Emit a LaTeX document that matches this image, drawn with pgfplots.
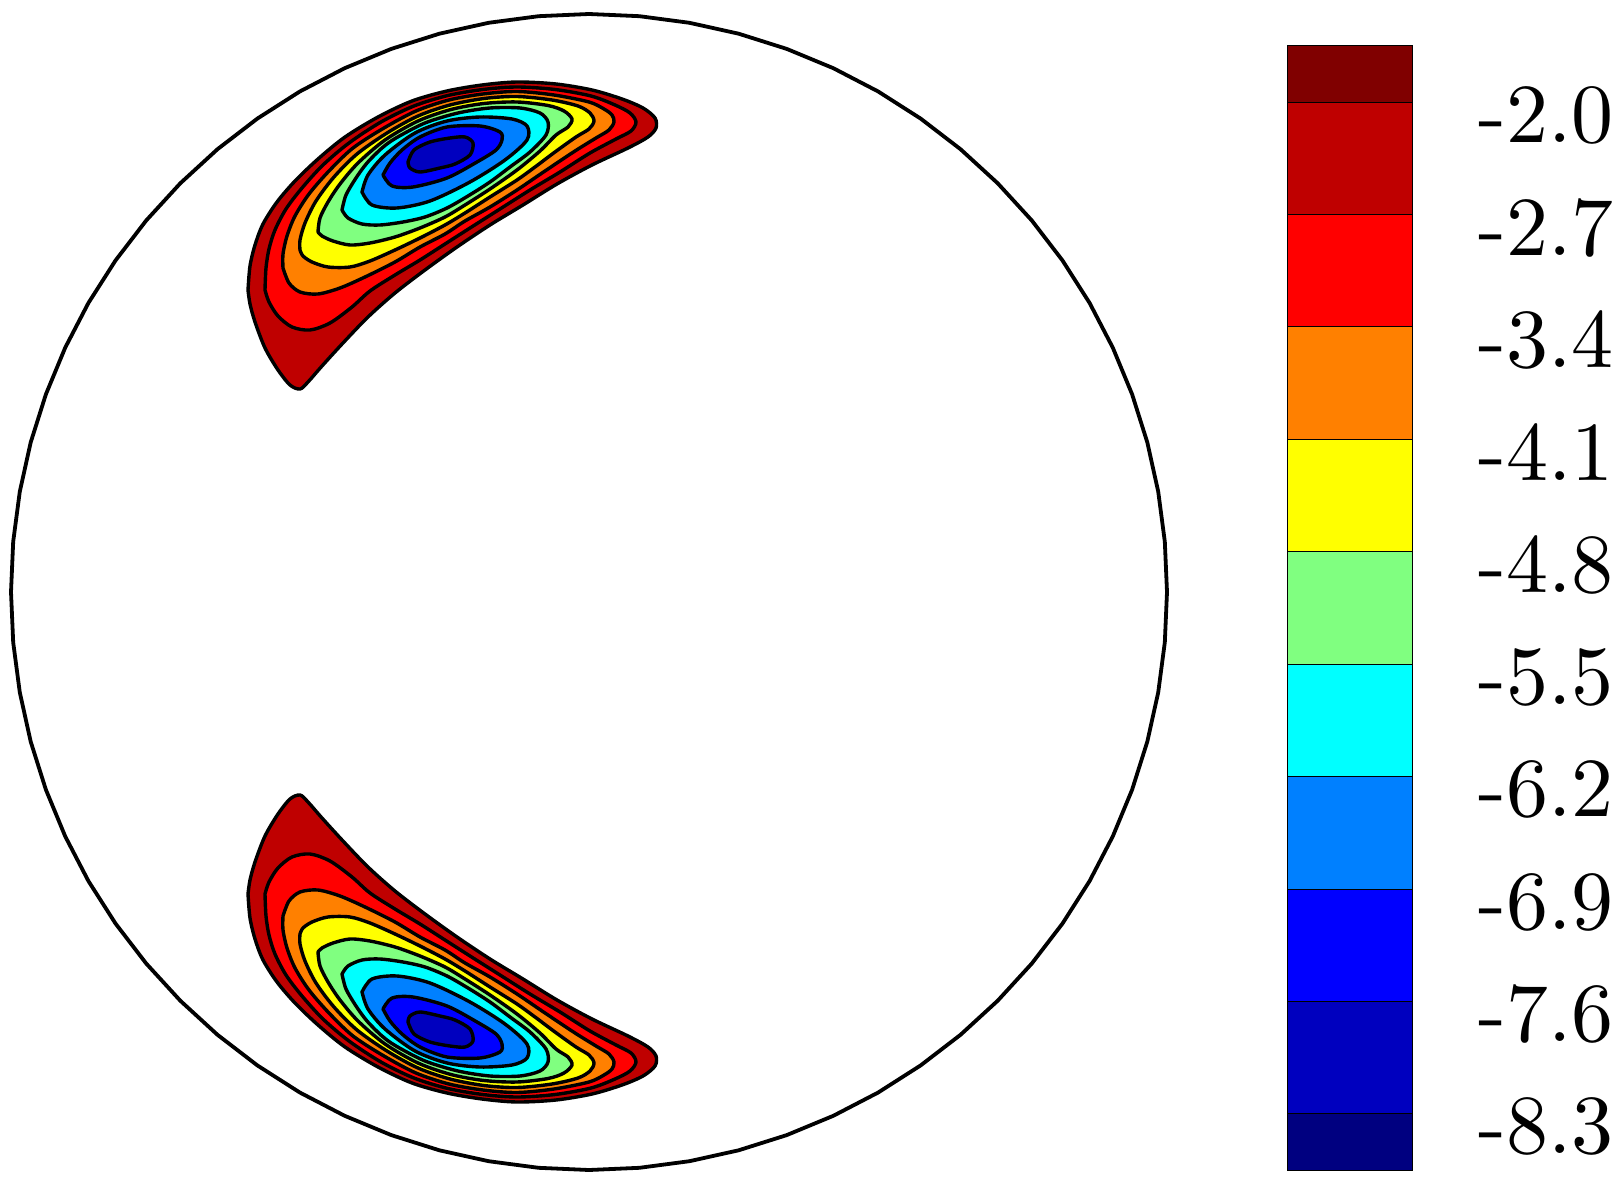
\documentclass[border=0pt]{standalone}
\usepackage{fontspec}
\newfontfamily\cbfont{lmroman10-regular.otf}
\usepackage{pgfplots}
\pgfplotsset{compat=1.18}
\definecolor{c0}{RGB}{128,0,0}
\definecolor{c1}{RGB}{191,0,0}
\definecolor{c2}{RGB}{255,0,0}
\definecolor{c3}{RGB}{255,128,0}
\definecolor{c4}{RGB}{255,255,0}
\definecolor{c5}{RGB}{128,255,128}
\definecolor{c6}{RGB}{0,255,255}
\definecolor{c7}{RGB}{0,128,255}
\definecolor{c8}{RGB}{0,0,255}
\definecolor{c9}{RGB}{0,0,191}
\definecolor{c10}{RGB}{0,0,128}
\pgfplotsset{lev/.style={fill=#1, draw=black, line width=1.7pt, smooth, tension=0.5, line join=round, mark=none}}
\begin{document}
\begin{tikzpicture}
\begin{axis}[at={(0pt,0pt)}, anchor=south west, scale only axis, x=0.5pt, y=0.5pt,
  xmin=0, xmax=1620, ymin=-593, ymax=592, hide axis, clip=false]
\addplot[draw=none, mark=none] coordinates {(0,-593) (1620,592)};
% circle
\addplot[draw=black, line width=1.9pt, mark=none, line join=round] coordinates {
(1167,0) (1164.8,50.4) (1158.2,100.4) (1147.3,149.6) (1132.1,197.7) (1112.8,244.3) (1089.6,289) (1062.5,331.5) (1031.8,371.5) (997.7,408.7) (960.5,442.8) (920.5,473.5) (878,500.6) (833.3,523.8) (786.7,543.1) (738.6,558.3) (689.4,569.2) (639.4,575.8) (589,578)
(538.6,575.8) (488.6,569.2) (439.4,558.3) (391.3,543.1) (344.7,523.8) (300,500.6) (257.5,473.5) (217.5,442.8) (180.3,408.7) (146.2,371.5) (115.5,331.5) (88.4,289) (65.2,244.3) (45.9,197.7) (30.7,149.6) (19.8,100.4) (13.2,50.4) (11,0)
(13.2,-50.4) (19.8,-100.4) (30.7,-149.6) (45.9,-197.7) (65.2,-244.3) (88.4,-289) (115.5,-331.5) (146.2,-371.5) (180.3,-408.7) (217.5,-442.8) (257.5,-473.5) (300,-500.6) (344.7,-523.8) (391.3,-543.1) (439.4,-558.3) (488.6,-569.2) (538.6,-575.8) (589,-578)
(639.4,-575.8) (689.4,-569.2) (738.6,-558.3) (786.7,-543.1) (833.3,-523.8) (878,-500.6) (920.5,-473.5) (960.5,-442.8) (997.7,-408.7) (1031.8,-371.5) (1062.5,-331.5) (1089.6,-289) (1112.8,-244.3) (1132.1,-197.7) (1147.3,-149.6) (1158.2,-100.4) (1164.8,-50.4) (1167,0)} -- cycle;
% ---------- top lobe ----------
\addplot[lev=c1] coordinates {(248,302)(250,326)(255,347)(263,368)(277,390)(295,411)(318,433)(345,455)(378,475)(412,491)(447,501)(482,507)(517,510)(556,508)(592,502)(622,493)(643,484)(655,474)(656,464)(648,455)(628,444)(592,427)(557,408)(523,387)(490,367)(457,345)(425,322)(395,299)(368,275)(343,249)(322,226)(308,210)(300,203)(290,207)(278,222)(265,244)(255,270)(250,288)(248,302)} -- cycle;
\addplot[lev=c2] coordinates {(265,302)(266,324)(269,343)(275,362)(286,383)(302,404)(323,427)(349,449)(381,470)(414,486)(448,496.5)(483,502.5)(517,505)(555,502.5)(591,496)(615,487)(630,479)(636,470)(631,461)(616,453)(590,439)(560,420)(530,402)(500,383)(470,364)(445,348)(420,332)(395,317)(370,301)(352,285)(330,269)(310,262)(292,265)(278,276)(269,290)(265,302)} -- cycle;
\addplot[lev=c3] coordinates {(283,324)(283,338)(287,356)(295,376)(309,398)(329,421)(353,444)(384,464)(416,481)(449,492)(483,498)(517,500.5)(554,497)(589,490)(604,483)(612,477)(614,470)(609,462)(596,454)(575,441)(545,421)(517,402)(490,385)(465,371)(445,358)(420,345)(395,330)(365,315)(340,304)(318,298)(300,300)(289,309)(283,324)} -- cycle;
\addplot[lev=c4] coordinates {(300,342)(300,352)(305,369)(316,391)(334,415)(357,438)(387,459)(418,476)(450,487)(484,493.5)(517,495.5)(552,492)(578,486)(590,479)(594,471)(589,463)(576,455)(555,440)(535,425)(517,412)(490,395)(465,379)(445,367)(420,354)(395,342)(370,331)(350,325)(328,325)(312,330)(303,336)(300,342)} -- cycle;
\addplot[lev=c5] coordinates {(318,360)(320,374)(328,390)(340,408)(358,429)(385,452)(418,471)(451,482.5)(484,488.5)(517,490)(548,486.5)(564,481)(572,473)(568,465)(556,457)(540,441)(517,422)(490,403)(465,387)(445,375)(420,364)(395,355)(370,349)(350,347)(333,351)(322,356)(318,360)} -- cycle;
\addplot[lev=c6] coordinates {(342,382)(346,397)(356,414)(367,429)(382,444)(396,454)(425,469)(458,479)(490,484)(520,484)(540,479)(548,470)(546,457)(530,440)(510,425)(490,410)(468,396)(447,384)(425,375)(403,370)(380,367)(362,368)(348,374)(342,382)} -- cycle;
\addplot[lev=c7] coordinates {(362,400)(368,417)(385,437)(415,459)(447,471)(480,475)(512,473)(527,466)(527,452)(505,432)(470,410)(430,391)(397,384)(372,387)(362,400)} -- cycle;
\addplot[lev=c8] coordinates {(383,417)(390,429)(402,442)(420,455)(447,465)(480,466)(500,460)(502,452)(496,442)(477,430)(447,414)(413,405)(392,406)(383,417)} -- cycle;
\addplot[lev=c9] coordinates {(408,430)(414,442)(430,450)(450,454)(465,455)(473,449)(470,437)(455,428)(440,424)(420,420)(410,424)(408,430)} -- cycle;
% ---------- bottom lobe ----------
\addplot[lev=c1] coordinates {(248,-302)(250,-326)(255,-347)(263,-368)(277,-390)(295,-411)(318,-433)(345,-455)(378,-475)(412,-491)(447,-501)(482,-507)(517,-510)(556,-508)(592,-502)(622,-493)(643,-484)(655,-474)(656,-464)(648,-455)(628,-444)(592,-427)(557,-408)(523,-387)(490,-367)(457,-345)(425,-322)(395,-299)(368,-275)(343,-249)(322,-226)(308,-210)(300,-203)(290,-207)(278,-222)(265,-244)(255,-270)(250,-288)(248,-302)} -- cycle;
\addplot[lev=c2] coordinates {(265,-302)(266,-324)(269,-343)(275,-362)(286,-383)(302,-404)(323,-427)(349,-449)(381,-470)(414,-486)(448,-496.5)(483,-502.5)(517,-505)(555,-502.5)(591,-496)(615,-487)(630,-479)(636,-470)(631,-461)(616,-453)(590,-439)(560,-420)(530,-402)(500,-383)(470,-364)(445,-348)(420,-332)(395,-317)(370,-301)(352,-285)(330,-269)(310,-262)(292,-265)(278,-276)(269,-290)(265,-302)} -- cycle;
\addplot[lev=c3] coordinates {(283,-324)(283,-338)(287,-356)(295,-376)(309,-398)(329,-421)(353,-444)(384,-464)(416,-481)(449,-492)(483,-498)(517,-500.5)(554,-497)(589,-490)(604,-483)(612,-477)(614,-470)(609,-462)(596,-454)(575,-441)(545,-421)(517,-402)(490,-385)(465,-371)(445,-358)(420,-345)(395,-330)(365,-315)(340,-304)(318,-298)(300,-300)(289,-309)(283,-324)} -- cycle;
\addplot[lev=c4] coordinates {(300,-342)(300,-352)(305,-369)(316,-391)(334,-415)(357,-438)(387,-459)(418,-476)(450,-487)(484,-493.5)(517,-495.5)(552,-492)(578,-486)(590,-479)(594,-471)(589,-463)(576,-455)(555,-440)(535,-425)(517,-412)(490,-395)(465,-379)(445,-367)(420,-354)(395,-342)(370,-331)(350,-325)(328,-325)(312,-330)(303,-336)(300,-342)} -- cycle;
\addplot[lev=c5] coordinates {(318,-360)(320,-374)(328,-390)(340,-408)(358,-429)(385,-452)(418,-471)(451,-482.5)(484,-488.5)(517,-490)(548,-486.5)(564,-481)(572,-473)(568,-465)(556,-457)(540,-441)(517,-422)(490,-403)(465,-387)(445,-375)(420,-364)(395,-355)(370,-349)(350,-347)(333,-351)(322,-356)(318,-360)} -- cycle;
\addplot[lev=c6] coordinates {(342,-382)(346,-397)(356,-414)(367,-429)(382,-444)(396,-454)(425,-469)(458,-479)(490,-484)(520,-484)(540,-479)(548,-470)(546,-457)(530,-440)(510,-425)(490,-410)(468,-396)(447,-384)(425,-375)(403,-370)(380,-367)(362,-368)(348,-374)(342,-382)} -- cycle;
\addplot[lev=c7] coordinates {(362,-400)(368,-417)(385,-437)(415,-459)(447,-471)(480,-475)(512,-473)(527,-466)(527,-452)(505,-432)(470,-410)(430,-391)(397,-384)(372,-387)(362,-400)} -- cycle;
\addplot[lev=c8] coordinates {(383,-417)(390,-429)(402,-442)(420,-455)(447,-465)(480,-466)(500,-460)(502,-452)(496,-442)(477,-430)(447,-414)(413,-405)(392,-406)(383,-417)} -- cycle;
\addplot[lev=c9] coordinates {(408,-430)(414,-442)(430,-450)(450,-454)(465,-455)(473,-449)(470,-437)(455,-428)(440,-424)(420,-420)(410,-424)(408,-430)} -- cycle;
\end{axis}
% ---------- colour bar ----------
\begin{axis}[at={(643.5pt,7.5pt)}, anchor=south west, scale only axis,
  width=62.5pt, height=562pt, xmin=0, xmax=1, ymin=-8.65, ymax=-1.65,
  axis line style={draw=none}, xtick=\empty,
  ytick={-8.3,-7.6,-6.9,-6.2,-5.5,-4.8,-4.1,-3.4,-2.7,-2.0},
  yticklabels={-8.3,-7.6,-6.9,-6.2,-5.5,-4.8,-4.1,-3.4,-2.7,-2.0},
  yticklabel pos=right, major tick length=0pt, tick style={draw=none},
  yticklabel style={anchor=west, inner sep=0pt, xshift=33pt, yshift=-6.5pt, font=\cbfont\fontsize{42}{48}\selectfont},
  clip=false]
\addplot[fill=c10, draw=black, line width=0.5pt] coordinates {(0,-8.65)(1,-8.65)(1,-8.3)(0,-8.3)} -- cycle;
\addplot[fill=c9, draw=black, line width=0.5pt] coordinates {(0,-8.3)(1,-8.3)(1,-7.6)(0,-7.6)} -- cycle;
\addplot[fill=c8, draw=black, line width=0.5pt] coordinates {(0,-7.6)(1,-7.6)(1,-6.9)(0,-6.9)} -- cycle;
\addplot[fill=c7, draw=black, line width=0.5pt] coordinates {(0,-6.9)(1,-6.9)(1,-6.2)(0,-6.2)} -- cycle;
\addplot[fill=c6, draw=black, line width=0.5pt] coordinates {(0,-6.2)(1,-6.2)(1,-5.5)(0,-5.5)} -- cycle;
\addplot[fill=c5, draw=black, line width=0.5pt] coordinates {(0,-5.5)(1,-5.5)(1,-4.8)(0,-4.8)} -- cycle;
\addplot[fill=c4, draw=black, line width=0.5pt] coordinates {(0,-4.8)(1,-4.8)(1,-4.1)(0,-4.1)} -- cycle;
\addplot[fill=c3, draw=black, line width=0.5pt] coordinates {(0,-4.1)(1,-4.1)(1,-3.4)(0,-3.4)} -- cycle;
\addplot[fill=c2, draw=black, line width=0.5pt] coordinates {(0,-3.4)(1,-3.4)(1,-2.7)(0,-2.7)} -- cycle;
\addplot[fill=c1, draw=black, line width=0.5pt] coordinates {(0,-2.7)(1,-2.7)(1,-2.0)(0,-2.0)} -- cycle;
\addplot[fill=c0, draw=black, line width=0.5pt] coordinates {(0,-2.0)(1,-2.0)(1,-1.65)(0,-1.65)} -- cycle;
\end{axis}
\end{tikzpicture}
\end{document}
